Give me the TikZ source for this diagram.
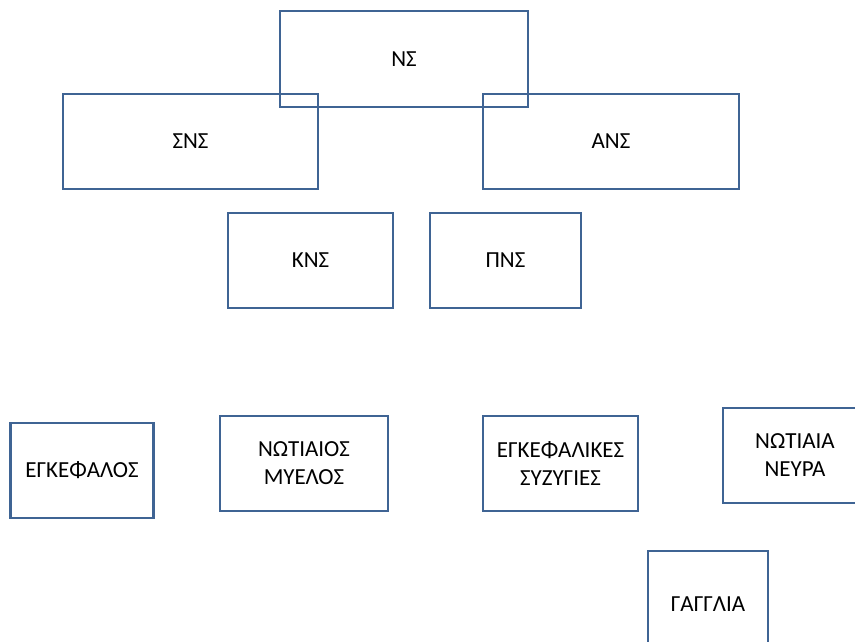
\documentclass[tikz,border=0pt]{standalone}
\usepackage{fontspec}
\setmainfont{Carlito}
\definecolor{boxline}{HTML}{3F6494}
\begin{document}
\begin{tikzpicture}[x=1pt,y=-1pt,
  nsbox/.style={draw=boxline, line width=2.4pt, rectangle, inner sep=0pt,
    align=center, font=\fontsize{23}{28}\selectfont, text=black}]
\useasboundingbox (0,0) rectangle (855,642);
\clip (0,0) rectangle (855,642);
% upper level
\node[nsbox, minimum width=248, minimum height=96] (ns) at (404,59) {ΝΣ};
\node[nsbox, minimum width=255, minimum height=95] (sns) at (190.5,141.5) {ΣΝΣ};
\node[nsbox, minimum width=256, minimum height=95] (ans) at (611,141.5) {ΑΝΣ};
% second level
\node[nsbox, minimum width=165, minimum height=95] (kns) at (310.5,260.5) {ΚΝΣ};
\node[nsbox, minimum width=151, minimum height=95] (pns) at (505.5,260.5) {ΠΝΣ};
% bottom level
\node[nsbox, minimum width=143, minimum height=95] (egk) at (82,470.5) {ΕΓΚΕΦΑΛΟΣ};
\node[nsbox, minimum width=168, minimum height=95] (myel) at (304,463.5) {ΝΩΤΙΑΙΟΣ\\ΜΥΕΛΟΣ};
\node[nsbox, minimum width=155, minimum height=95] (syz) at (560.5,463.5) {ΕΓΚΕΦΑΛΙΚΕΣ\\ΣΥΖΥΓΙΕΣ};
\node[nsbox, minimum width=144, minimum height=95] (neyra) at (795,455.5) {ΝΩΤΙΑΙΑ\\ΝΕΥΡΑ};
\node[nsbox, minimum width=120, minimum height=106] (gagl) at (708,604) {ΓΑΓΓΛΙΑ};
\end{tikzpicture}
\end{document}
